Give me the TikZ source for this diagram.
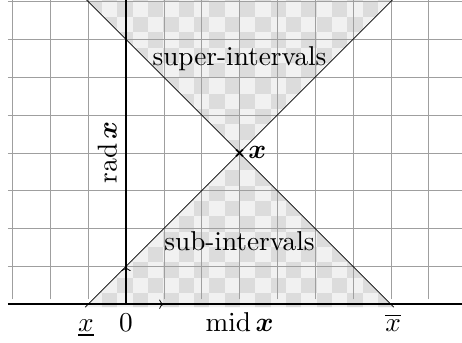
\documentclass[tikz,border=0pt]{standalone}
\usepackage{amsmath}
\usetikzlibrary{calc,arrows.meta}
\definecolor{chklight}{HTML}{F1F1F1}
\definecolor{chkdark}{HTML}{DCDCDC}
\tikzset{
  gridline/.style={draw=gray!75, line width=0.5pt},
  axisline/.style={draw=black, line width=1.2pt},
  diagline/.style={draw=black, line width=0.5pt},
  lbl/.style={font=\normalsize, inner sep=0pt, scale=2.05},
  unitarrow/.style={-{To[length=3.5pt,width=7pt]}, line width=0.6pt},
}
\begin{document}
\begin{tikzpicture}
\useasboundingbox (-3.33,-1.016) rectangle (8.88,8.04);
\clip (-3.33,-1.016) rectangle (8.88,8.04);
% checkerboard shading
\begin{scope}
  \clip (3,4) -- (-1.08,-0.08) -- (7.08,-0.08) -- cycle
        (3,4) -- (-1.2,8.2) -- (7.2,8.2) -- cycle;
  \fill[chklight] (-1.3,-0.2) rectangle (7.3,8.3);
  \foreach \i in {-5,...,16}{
    \foreach \j in {-19,...,1}{
      \pgfmathtruncatemacro\myparity{mod(\i+\j+60,2)}
      \ifnum\myparity=0
        \fill[chkdark] ({0.581+0.405*\i},{7.588+0.405*\j}) rectangle ++(0.405,0.405);
      \fi
    }
  }
\end{scope}
% grid
\draw[gridline, step=1] (-3.12,0.13) grid (8.9,8.1);
% diagonals
\coordinate (X) at (3,4);
\coordinate (lo) at (-1.08,-0.08);
\coordinate (hi) at (7.08,-0.08);
\coordinate (ulo) at (-1.1,8.1);
\coordinate (uhi) at (7.1,8.1);
\draw[diagline] (lo) -- (X) -- (hi);
\draw[diagline] (ulo) -- (X) -- (uhi);
% axes
\coordinate (O) at (0,0);
\coordinate (xl) at (-3.12,0);
\coordinate (xr) at (8.9,0);
\coordinate (yt) at (0,8.1);
\coordinate (ex) at (1,0);
\coordinate (ey) at (0,1);
\draw[axisline] (xl) -- (xr);
\draw[axisline] (O) -- (yt);
\draw[unitarrow] (O) -- (ex);
\draw[unitarrow] (O) -- (ey);
% cross mark
\draw[line width=1.3pt] ($(X)+(-0.09,-0.09)$) -- ($(X)+(0.09,0.09)$);
\draw[line width=1.3pt] ($(X)+(-0.09,0.09)$) -- ($(X)+(0.09,-0.09)$);
\node[lbl, anchor=base west] (xlab) at (3.22,3.86) {$\boldsymbol{x}$};
% labels
\node[lbl, anchor=base] (super) at (3,6.30) {super-intervals};
\node[lbl, anchor=base] (sub) at (3,1.41) {sub-intervals};
\node[lbl, anchor=base, rotate=90] (rad) at (-0.25,4.02) {$\operatorname{rad}\boldsymbol{x}$};
\node[lbl, anchor=base] (xlow) at (-1.06,-0.713) {$\underline{x}$};
\node[lbl, anchor=base] (zero) at (0,-0.713) {$0$};
\node[lbl, anchor=base] (mid) at (3,-0.713) {$\operatorname{mid}\boldsymbol{x}$};
\node[lbl, anchor=base] (xup) at (7.06,-0.713) {$\overline{x}$};
\end{tikzpicture}
\end{document}
